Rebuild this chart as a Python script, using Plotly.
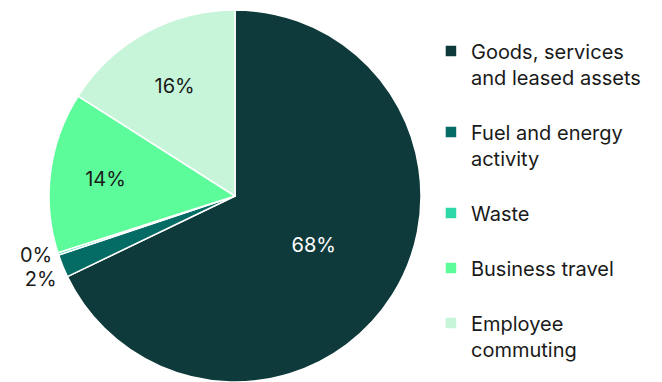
import plotly.graph_objects as go

labels = ["Goods, services<br>and leased assets<br> ", "Fuel and energy<br>activity<br> ", "Waste<br> ", "Business travel<br> ", "Employee<br>commuting"]
values = [68, 2, 0.2, 14, 16]
colors = ["#0f3a3b", "#056b65", "#2ed8a6", "#5dfc9b", "#c6f5da"]
text_colors = ["#ffffff", "#1a1a1a", "#1a1a1a", "#1a1a1a", "#1a1a1a"]
positions = ["inside", "outside", "outside", "inside", "inside"]

fig = go.Figure(go.Pie(
    labels=labels,
    values=values,
    sort=False,
    direction="clockwise",
    rotation=0,
    marker=dict(colors=colors, line=dict(color="#ffffff", width=1.5)),
    textinfo="percent",
    texttemplate="%{percent:.0%}",
    textposition=positions,
    insidetextorientation="horizontal",
    textfont=dict(family="Inter", size=20, color=text_colors),
    outsidetextfont=dict(family="Inter", size=20, color="#1a1a1a"),
    domain=dict(x=[0.0, 0.71], y=[0, 1]),
    hoverinfo="skip",
))

fig.update_layout(
    width=662, height=382,
    margin=dict(l=0, r=0, t=10, b=0, autoexpand=False),
    paper_bgcolor="#ffffff",
    plot_bgcolor="#ffffff",
    font=dict(family="Inter", size=20, color="#1a1a1a"),
    legend=dict(x=0.651, xanchor="left", y=0.942, yanchor="top",
                valign="top", bgcolor="rgba(0,0,0,0)",
                font=dict(family="Inter", size=20, color="#1a1a1a"),
                tracegroupgap=0, itemclick=False),
    showlegend=True,
)

fig.write_html("out.html", post_script="document.querySelectorAll('.textline').forEach(function(e){e.remove();});")
